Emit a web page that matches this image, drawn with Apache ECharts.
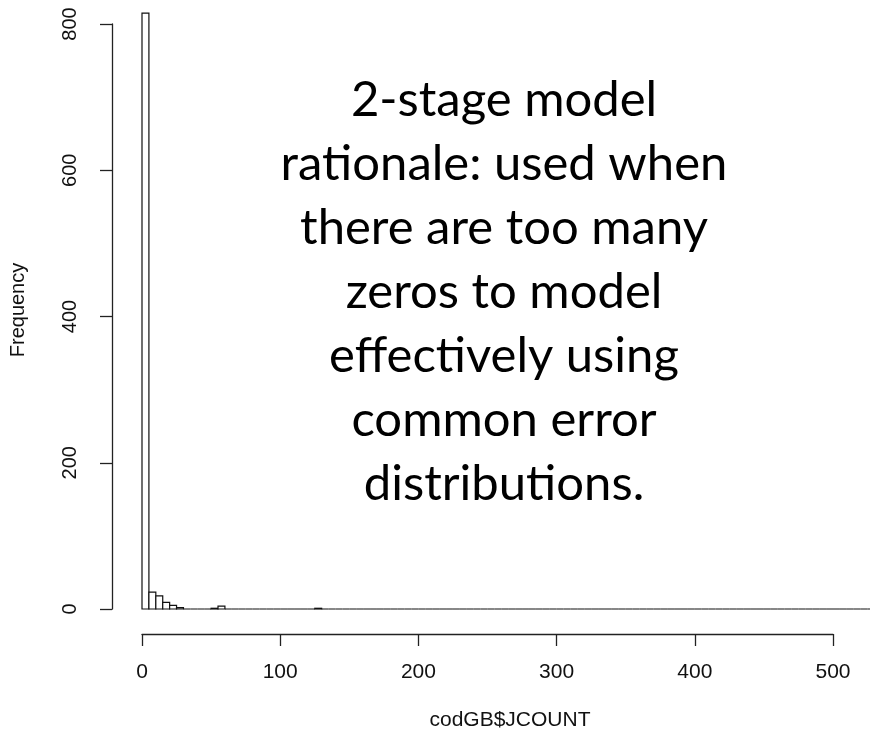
<!DOCTYPE html>
<html>
<head>
<meta charset="utf-8">
<script src="https://cdn.jsdelivr.net/npm/echarts@6/dist/echarts.min.js"></script>
<style>
html,body{margin:0;padding:0;background:#fff;}
#chart{width:870px;height:733px;}
</style>
</head>
<body>
<div id="chart"></div>
<script>
// Histogram of codGB$JCOUNT, bins of width 5 starting at 0
const binWidth = 5;
const counts = [
  815, 23, 18, 9, 5, 2, 0, 0, 0, 0,
  1, 4, 0, 0, 0, 0, 0, 0, 0, 0,
  0, 0, 0, 0, 0, 1, 0, 0, 0, 0,
  0, 0, 0, 0, 0, 0, 0, 0, 0, 0,
  0, 0, 0, 0, 0, 0, 0, 0, 0, 0,
  0, 0, 0, 0, 0, 0, 0, 0, 0, 0,
  0, 0, 0, 0, 0, 0, 0, 0, 0, 0,
  0, 0, 0, 0, 0, 0, 0, 0, 0, 0,
  0, 0, 0, 0, 0, 0, 0, 0, 0, 0,
  0, 0, 0, 0, 0, 0, 0, 0, 0, 0,
  0, 0, 0, 0, 0, 0, 0
];
const xTicks = [0, 100, 200, 300, 400, 500];
const yTicks = [0, 200, 400, 600, 800];
const xTitle = 'codGB$JCOUNT';
const yTitle = 'Frequency';
const noteLines = [
  '2-stage model',
  'rationale: used when',
  'there are too many',
  'zeros to model',
  'effectively using',
  'common error',
  'distributions.'
];

const histData = counts.map((c, i) => [i * binWidth, (i + 1) * binWidth, c]);
const axisFont = 'Liberation Sans, Arial, sans-serif';
const axisColor = '#222';

const chart = echarts.init(document.getElementById('chart'));
chart.setOption({
  backgroundColor: '#fff',
  animation: false,
  grid: { left: 142, right: 37, top: 24, bottom: 124, containLabel: false },
  xAxis: {
    type: 'value',
    min: xTicks[0], max: xTicks[xTicks.length - 1], interval: 100,
    offset: 25,
    axisLine: { show: true, onZero: false, lineStyle: { color: axisColor, width: 1.3 } },
    axisTick: { show: true, length: 12, lineStyle: { color: axisColor, width: 1.3 } },
    splitLine: { show: false },
    axisLabel: { fontSize: 21, color: '#111', fontFamily: axisFont, margin: 28 }
  },
  yAxis: {
    type: 'value',
    min: yTicks[0], max: yTicks[yTicks.length - 1], interval: 200,
    offset: 30,
    axisLine: { show: true, onZero: false, lineStyle: { color: axisColor, width: 1.3 } },
    axisTick: { show: true, length: 12, lineStyle: { color: axisColor, width: 1.3 } },
    splitLine: { show: false },
    axisLabel: { fontSize: 20, color: '#111', fontFamily: axisFont, rotate: 90, margin: 32 }
  },
  series: [{
    type: 'custom',
    clip: false,
    data: histData,
    encode: { x: [0, 1], y: 2 },
    renderItem: function (params, api) {
      const p0 = api.coord([api.value(0), api.value(2)]);
      const p1 = api.coord([api.value(1), 0]);
      return {
        type: 'rect',
        shape: { x: p0[0], y: p0[1], width: p1[0] - p0[0], height: p1[1] - p0[1] },
        style: { fill: '#fff', stroke: '#111', lineWidth: 1.2 }
      };
    }
  }],
  graphic: [
    {
      type: 'text', x: 18, y: 310, rotation: Math.PI / 2,
      style: { text: yTitle, fontSize: 20, fontFamily: axisFont, fill: '#111', align: 'center', verticalAlign: 'middle' }
    },
    {
      type: 'text', x: 510, y: 720,
      style: { text: xTitle, fontSize: 21, fontFamily: axisFont, fill: '#111', align: 'center', verticalAlign: 'middle' }
    },
    {
      type: 'text', x: 504, y: 68,
      style: {
        text: noteLines.join('\n'), fontSize: 49, lineHeight: 64,
        fontFamily: 'Lato, Open Sans, sans-serif', fill: '#000',
        align: 'center', verticalAlign: 'top'
      }
    }
  ]
});
</script>
</body>
</html>
